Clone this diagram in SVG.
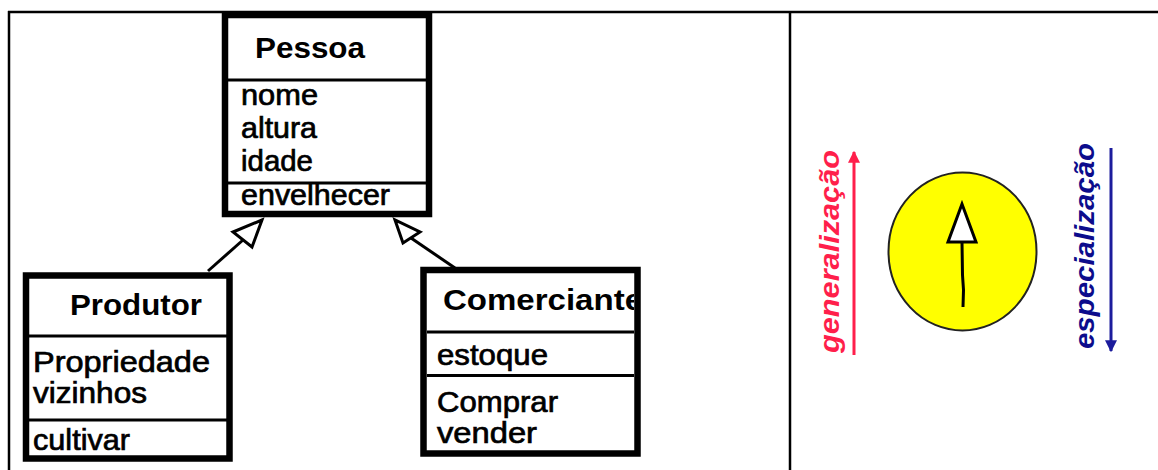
<svg xmlns="http://www.w3.org/2000/svg" width="1158" height="470" viewBox="0 0 1158 470">
  <style>
    .box { fill: #ffffff; stroke: #000000; stroke-width: 6.5; }
    .div { stroke: #000000; stroke-width: 3; }
    .title { font-family: "Liberation Sans", Arial, sans-serif; font-weight: bold; font-size: 29px; fill: #000000; }
    .attr { font-family: "Liberation Sans", Arial, sans-serif; font-size: 29px; fill: #000000; stroke: #000000; stroke-width: 0.7; }
    .frame { stroke: #000000; stroke-width: 2.5; fill: none; }
    .conn { stroke: #000000; stroke-width: 3; fill: none; }
    .head { stroke: #000000; stroke-width: 3; fill: #ffffff; stroke-linejoin: miter; }
    .vlabel { font-family: "Liberation Sans", Arial, sans-serif; font-weight: bold; font-style: italic; font-size: 28px; }
  </style>
  <defs>
    <clipPath id="clipCom">
      <rect x="427" y="273" width="207" height="177"/>
    </clipPath>
    <marker id="redHead" viewBox="0 0 10 10" refX="9" refY="5" markerWidth="4" markerHeight="4" orient="auto">
      <path d="M0,0 L10,5 L0,10 z" fill="#ff1f4b"/>
    </marker>
    <marker id="blueHead" viewBox="0 0 10 10" refX="9" refY="5" markerWidth="4" markerHeight="4" orient="auto">
      <path d="M0,0 L10,5 L0,10 z" fill="#1c1c9c"/>
    </marker>
  </defs>

  <rect width="1158" height="470" fill="#ffffff"/>

  <g id="frame">
    <line class="frame" x1="8" y1="12" x2="1158" y2="12"/>
    <line class="frame" x1="9" y1="11" x2="9" y2="470"/>
    <line class="frame" x1="790" y1="12" x2="790" y2="470"/>
  </g>

  <g id="connectors">
    <line class="conn" x1="208" y1="271" x2="243" y2="240"/>
    <polygon class="head" points="262,220 233,232 252,247"/>
    <line class="conn" x1="455" y1="268" x2="411" y2="238"/>
    <polygon class="head" points="395,220 403,243 420,232"/>
  </g>

  <g id="pessoa">
    <rect class="box" x="225" y="15" width="204" height="199"/>
    <line class="div" x1="228" y1="80" x2="427" y2="80"/>
    <line class="div" x1="228" y1="183" x2="427" y2="183"/>
    <text class="title" x="255" y="58" textLength="110" lengthAdjust="spacingAndGlyphs">Pessoa</text>
    <text class="attr" x="241" y="105" textLength="77" lengthAdjust="spacingAndGlyphs">nome</text>
    <text class="attr" x="241" y="138" textLength="76" lengthAdjust="spacingAndGlyphs">altura</text>
    <text class="attr" x="241" y="171" textLength="72" lengthAdjust="spacingAndGlyphs">idade</text>
    <text class="attr" x="241" y="205" textLength="149" lengthAdjust="spacingAndGlyphs">envelhecer</text>
  </g>

  <g id="produtor">
    <rect class="box" x="26" y="275.5" width="203.5" height="183"/>
    <line class="div" x1="29" y1="336" x2="228" y2="336"/>
    <line class="div" x1="29" y1="420" x2="228" y2="420"/>
    <text class="title" x="70" y="315" textLength="132" lengthAdjust="spacingAndGlyphs">Produtor</text>
    <text class="attr" x="33" y="372" textLength="177" lengthAdjust="spacingAndGlyphs">Propriedade</text>
    <text class="attr" x="33" y="403" textLength="114" lengthAdjust="spacingAndGlyphs">vizinhos</text>
    <text class="attr" x="33" y="450" textLength="97" lengthAdjust="spacingAndGlyphs">cultivar</text>
  </g>

  <g id="comerciante">
    <rect class="box" x="423.5" y="270" width="214" height="183.5"/>
    <line class="div" x1="427" y1="332" x2="634" y2="332"/>
    <line class="div" x1="427" y1="375.5" x2="634" y2="375.5"/>
    <text class="title" x="443" y="310" textLength="200" lengthAdjust="spacingAndGlyphs" clip-path="url(#clipCom)">Comerciante</text>
    <text class="attr" x="437" y="365" textLength="111" lengthAdjust="spacingAndGlyphs">estoque</text>
    <text class="attr" x="437" y="412" textLength="121" lengthAdjust="spacingAndGlyphs">Comprar</text>
    <text class="attr" x="437" y="443" textLength="100" lengthAdjust="spacingAndGlyphs">vender</text>
  </g>

  <g id="legend">
    <ellipse cx="962.5" cy="251.5" rx="74" ry="79" fill="#ffff00" stroke="#222222" stroke-width="2"/>
    <path d="M962,242 L962.5,275 L963.5,290 L963,307" class="conn"/>
    <polygon class="head" points="962,204 948,242 976,242"/>

    <line x1="854" y1="355" x2="854" y2="152" stroke="#ff1f4b" stroke-width="3" marker-end="url(#redHead)"/>
    <text class="vlabel" fill="#ff1f4b" transform="translate(839,353) rotate(-90)" textLength="203" lengthAdjust="spacingAndGlyphs">generalização</text>

    <line x1="1111" y1="148" x2="1111" y2="351" stroke="#1c1c9c" stroke-width="3" marker-end="url(#blueHead)"/>
    <text class="vlabel" fill="#0c0c8c" transform="translate(1094,349) rotate(-90)" textLength="206" lengthAdjust="spacingAndGlyphs">especialização</text>
  </g>
</svg>
